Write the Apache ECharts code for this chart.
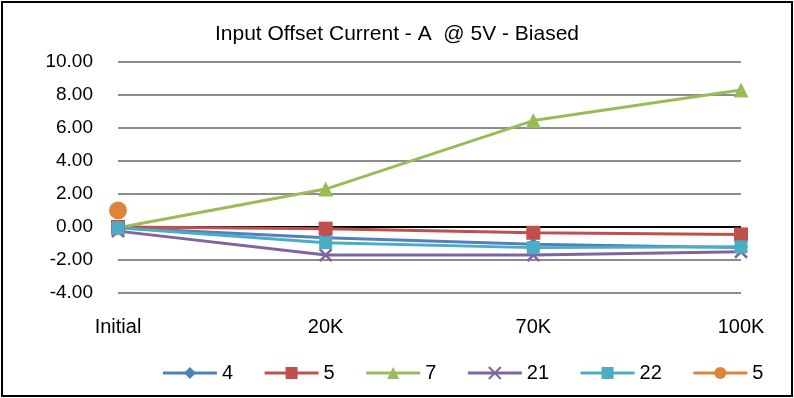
<!DOCTYPE html>
<html>
<head>
<meta charset="utf-8">
<script src="https://cdn.jsdelivr.net/npm/echarts@6/dist/echarts.min.js"></script>
<style>
  html, body { margin: 0; padding: 0; background: #fff; }
  #chart { position: absolute; left: 1px; top: 1px; width: 788px; height: 392px; border: 2px solid #000; }
</style>
</head>
<body>
<div id="chart"></div>
<script>
const categories = ['Initial', '20K', '70K', '100K'];
const s4 = [-0.05, -0.65, -1.05, -1.25];
const s5 = [0.0, -0.1, -0.35, -0.45];
const s7 = [-0.05, 2.3, 6.45, 8.3];
const s21 = [-0.25, -1.7, -1.7, -1.5];
const s22 = [-0.05, -0.95, -1.25, -1.2];
const s5b = [1.0, null, null, null];

const chart = echarts.init(document.getElementById('chart'));
const font = 'Liberation Sans, Arial, sans-serif';

function line(name, data, color, symbol, size, extra) {
  return Object.assign({
    name: name,
    type: 'line',
    data: data,
    symbol: symbol,
    symbolSize: size,
    showSymbol: true,
    lineStyle: { color: color, width: 3 },
    itemStyle: { color: color },
    emphasis: { disabled: true }
  }, extra || {});
}

chart.setOption({
  animation: false,
  title: {
    text: 'Input Offset Current - A  @ 5V - Biased',
    left: 'center',
    top: 16,
    textStyle: { fontFamily: font, fontSize: 21, fontWeight: 'normal', color: '#000' }
  },
  legend: {
    right: 17,
    top: 355,
    itemWidth: 54,
    itemHeight: 15,
    itemGap: 30,
    lineStyle: { width: 3 },
    textStyle: { fontFamily: font, fontSize: 20, color: '#000' },
    data: ['4', '5', '7', '21', '22', '5 ']
  },
  grid: { left: 115, right: 50, top: 59, bottom: 102 },
  xAxis: {
    type: 'category',
    data: categories,
    boundaryGap: false,
    axisLine: { show: false },
    axisTick: { show: false },
    axisLabel: { fontFamily: font, fontSize: 20, color: '#000', margin: 24 }
  },
  yAxis: {
    type: 'value',
    min: -4,
    max: 10,
    interval: 2,
    axisLine: { show: false },
    axisTick: { show: false },
    axisLabel: {
      fontFamily: font, fontSize: 19, color: '#000', margin: 25,
      formatter: v => v.toFixed(2)
    },
    splitLine: {
      lineStyle: {
        color: ['#8c8c8c', '#8c8c8c', '#000', '#8c8c8c', '#8c8c8c', '#8c8c8c', '#8c8c8c', '#8c8c8c'],
        width: 2
      }
    }
  },
  series: [
    line('4', s4, '#4F81BD', 'diamond', 13),
    line('5', s5, '#C0504D', 'rect', 14),
    line('7', s7, '#9BBB59', 'triangle', 15),
    line('21', s21, '#8064A2', 'path://M0,0 L10,10 M10,0 L0,10', 12,
      { itemStyle: { color: '#8064A2', borderColor: '#8064A2', borderWidth: 2.5 } }),
    line('22', s22, '#4BACC6', 'rect', 13),
    line('5 ', s5b, '#E0833A', 'circle', 18)
  ]
});
</script>
</body>
</html>
